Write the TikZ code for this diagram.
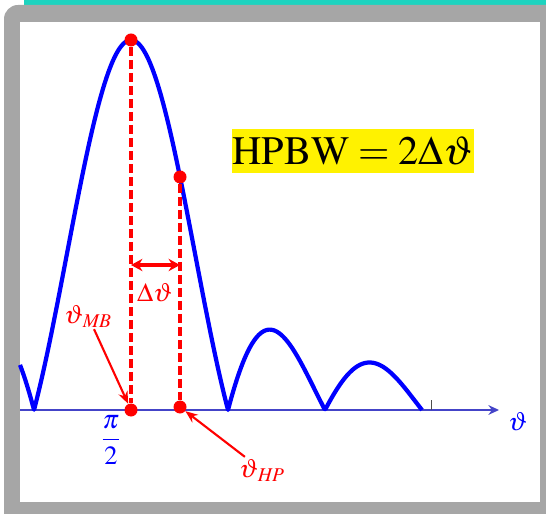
\documentclass[tikz,border=0pt]{standalone}
\usepackage{amsmath}
\usepackage{mathptmx}
\usepackage{xcolor}
\usepackage{tikz}
\usetikzlibrary{arrows.meta,positioning}

\definecolor{framegray}{RGB}{166,166,166}
\definecolor{topteal}{RGB}{29,211,191}
\definecolor{axisblue}{RGB}{68,68,200}

\begin{document}
\begin{tikzpicture}[x=0.02cm, y=0.02cm,
		dot/.style={circle, fill=red, inner sep=0pt, minimum size=7.4pt},
		hpline/.style={red, line width=2pt, dash pattern=on 5pt off 2.4pt},
		callout/.style={red, line width=1.2pt, -{Stealth[length=7pt,width=5.5pt]}},
		lbl/.style={font=\fontsize{15}{18}\selectfont, inner sep=1pt}]
		\clip (0,0) rectangle (546,513);
		\fill[topteal] (24,500) rectangle (560,520);
		\fill[framegray, rounded corners=8] (4,-20) rectangle (570,508);
		\fill[white] (20,11) rectangle (540,491);

		\coordinate (ax0) at (20,103);
		\coordinate (ax1) at (499,103);
		\draw[axisblue, line width=1.5pt, -{Stealth[length=6pt,width=5.5pt]}] (ax0) -- (ax1);
		\draw[black!70, line width=0.5pt] (431,103) -- (431,113);
		\draw[blue, line width=2.4pt, line join=round]
			plot[domain=-3.5948:9.4248, samples=401, variable=\u]
			({131+\u*97/pi}, {103+370*(abs(\u)<0.01 ? 1 : abs(sin(\u r)/\u))});

		\node[dot] (top) at (131,473) {};
		\node[dot] (mb) at (131,103) {};
		\node[dot] (hp) at (180,336) {};
		\node[dot] (hpax) at (180,106) {};
		\draw[hpline] (top) -- (mb);
		\draw[hpline] (hp) -- (hpax);

		\coordinate (dl) at (131,248);
		\coordinate (dr) at (180,248);
		\draw[red, line width=2pt, {Stealth[length=6.5pt,width=7pt]}-{Stealth[length=6.5pt,width=7pt]}] (dl) -- (dr);
		\node[lbl, red] (dth) at (155,220) {$\Delta\vartheta$};

		\node[lbl, red] (thmb) at (88,197) {$\vartheta_{\mkern2mu\mathit{MB}}$};
		\draw[callout] (thmb) -- (mb);
		\node[lbl, red] (thhp) at (262,43) {$\vartheta_{\mkern2mu\mathit{HP}}$};
		\draw[callout] (thhp) -- (hpax);

		\node[lbl, blue] (half) at (111,73) {$\dfrac{\pi}{2}$};
		\node[lbl, blue] (thax) at (518,91) {$\vartheta$};

		\node[fill=yellow, inner sep=0pt, minimum width=132.6pt, minimum height=25.6pt,
			font=\fontsize{23}{28}\selectfont] (hpbw) at (353,362) {$\mathrm{HPBW}=2\Delta\vartheta$};
	\end{tikzpicture}
\end{document}
